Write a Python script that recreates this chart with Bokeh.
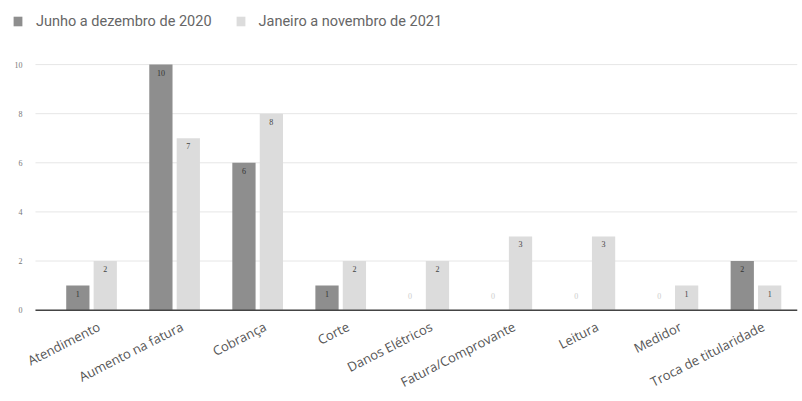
import numpy as np
from bokeh.plotting import figure
from bokeh.models import (ColumnDataSource, Range1d, FixedTicker, LabelSet, Legend, LegendItem,
                          CustomJSTickFormatter)
from bokeh.embed import file_html
from bokeh.resources import INLINE

categories = ["Atendimento", "Aumento na fatura", "Cobrança", "Corte", "Danos Elétricos",
              "Fatura/Comprovante", "Leitura", "Medidor", "Troca de titularidade"]
series_2020 = [1, 10, 6, 1, 0, 0, 0, 0, 2]
series_2021 = [2, 7, 8, 2, 2, 3, 3, 1, 1]
series_names = ["Junho a dezembro de 2020", "Janeiro a novembro de 2021"]
y_ticks = [0, 2, 4, 6, 8, 10]

colors = ["#8e8e8e", "#dcdcdc"]
FONT = "Roboto"

x = np.arange(len(categories))
dodge = 0.165
bw = 0.28
label_shift = 0.09
x_lo, x_hi = -0.675, 8.5          # plotted area edges (gridline extent)

p = figure(width=802, height=401, output_backend="svg", toolbar_location=None,
           x_range=Range1d(-1.036, x_hi), y_range=Range1d(-0.3, 12.61),
           min_border_left=5, min_border_right=5, min_border_top=0, min_border_bottom=80)
p.outline_line_color = None
p.background_fill_color = "white"
p.border_fill_color = "white"

# gridlines (y ticks)
p.segment(x0=[x_lo] * len(y_ticks), y0=y_ticks, x1=[x_hi] * len(y_ticks), y1=y_ticks,
          line_color="#e6e6e6", line_width=1)

renderers = []
for k, (vals, col) in enumerate(zip([series_2020, series_2021], colors)):
    off = -dodge if k == 0 else dodge
    xs = x + off
    src = ColumnDataSource(dict(x=xs, top=vals, lab=[str(v) for v in vals]))
    r = p.vbar(x="x", top="top", bottom=0, width=bw, source=src, fill_color=col, line_color=None)
    renderers.append(r)
    nz = [i for i, v in enumerate(vals) if v > 0]
    zs = [i for i, v in enumerate(vals) if v == 0]
    lsrc = ColumnDataSource(dict(x=[xs[i] for i in nz], y=[vals[i] for i in nz],
                                 lab=[str(vals[i]) for i in nz]))
    p.add_layout(LabelSet(x="x", y="y", text="lab", source=lsrc, y_offset=-5,
                          text_align="center", text_baseline="top",
                          text_font_size="8px", text_color="#333333" if k == 0 else "#444444",
                          text_font=FONT))
    if zs:
        zsrc = ColumnDataSource(dict(x=[xs[i] for i in zs], y=[0] * len(zs),
                                     lab=["0"] * len(zs)))
        p.add_layout(LabelSet(x="x", y="y", text="lab", source=zsrc, y_offset=14,
                              text_align="center", text_baseline="middle",
                              text_font_size="8px", text_color="#cccccc", text_font=FONT))

# baseline
p.segment(x0=[x_lo], y0=[0], x1=[x_hi], y1=[0], line_color="#444444", line_width=1.5)

# y tick labels
ysrc = ColumnDataSource(dict(x=[x_lo] * len(y_ticks), y=y_ticks, lab=[str(t) for t in y_ticks]))
p.add_layout(LabelSet(x="x", y="y", text="lab", source=ysrc, x_offset=-13,
                      text_align="right", text_baseline="middle",
                      text_font_size="8px", text_color="#777777", text_font=FONT))

p.yaxis.visible = False
p.xaxis.ticker = FixedTicker(ticks=list(x + label_shift))
p.xaxis.formatter = CustomJSTickFormatter(args=dict(cats=categories),
                                          code="return cats[Math.round(tick)];")
p.xaxis.major_label_orientation = 0.47
p.xaxis.axis_line_color = None
p.xaxis.major_tick_line_color = None
p.xaxis.minor_tick_line_color = None
p.xaxis.major_label_text_font = "Open Sans"
p.xaxis.major_label_text_font_size = "13px"
p.xaxis.major_label_text_color = "#555555"
p.xaxis.major_label_standoff = 2

p.xgrid.grid_line_color = None
p.ygrid.grid_line_color = None

legend = Legend(items=[LegendItem(label=series_names[0], renderers=[renderers[0]]),
                       LegendItem(label=series_names[1], renderers=[renderers[1]])],
                orientation="horizontal", location=(7, 286),
                padding=0, margin=0, spacing=23, label_standoff=13,
                glyph_width=11, glyph_height=12, label_height=20,
                label_text_font=FONT, label_text_font_size="14.5px",
                label_text_color="#666666", border_line_color=None,
                background_fill_alpha=0)
p.add_layout(legend, "center")

open("out.html", "w").write(file_html(p, INLINE))
